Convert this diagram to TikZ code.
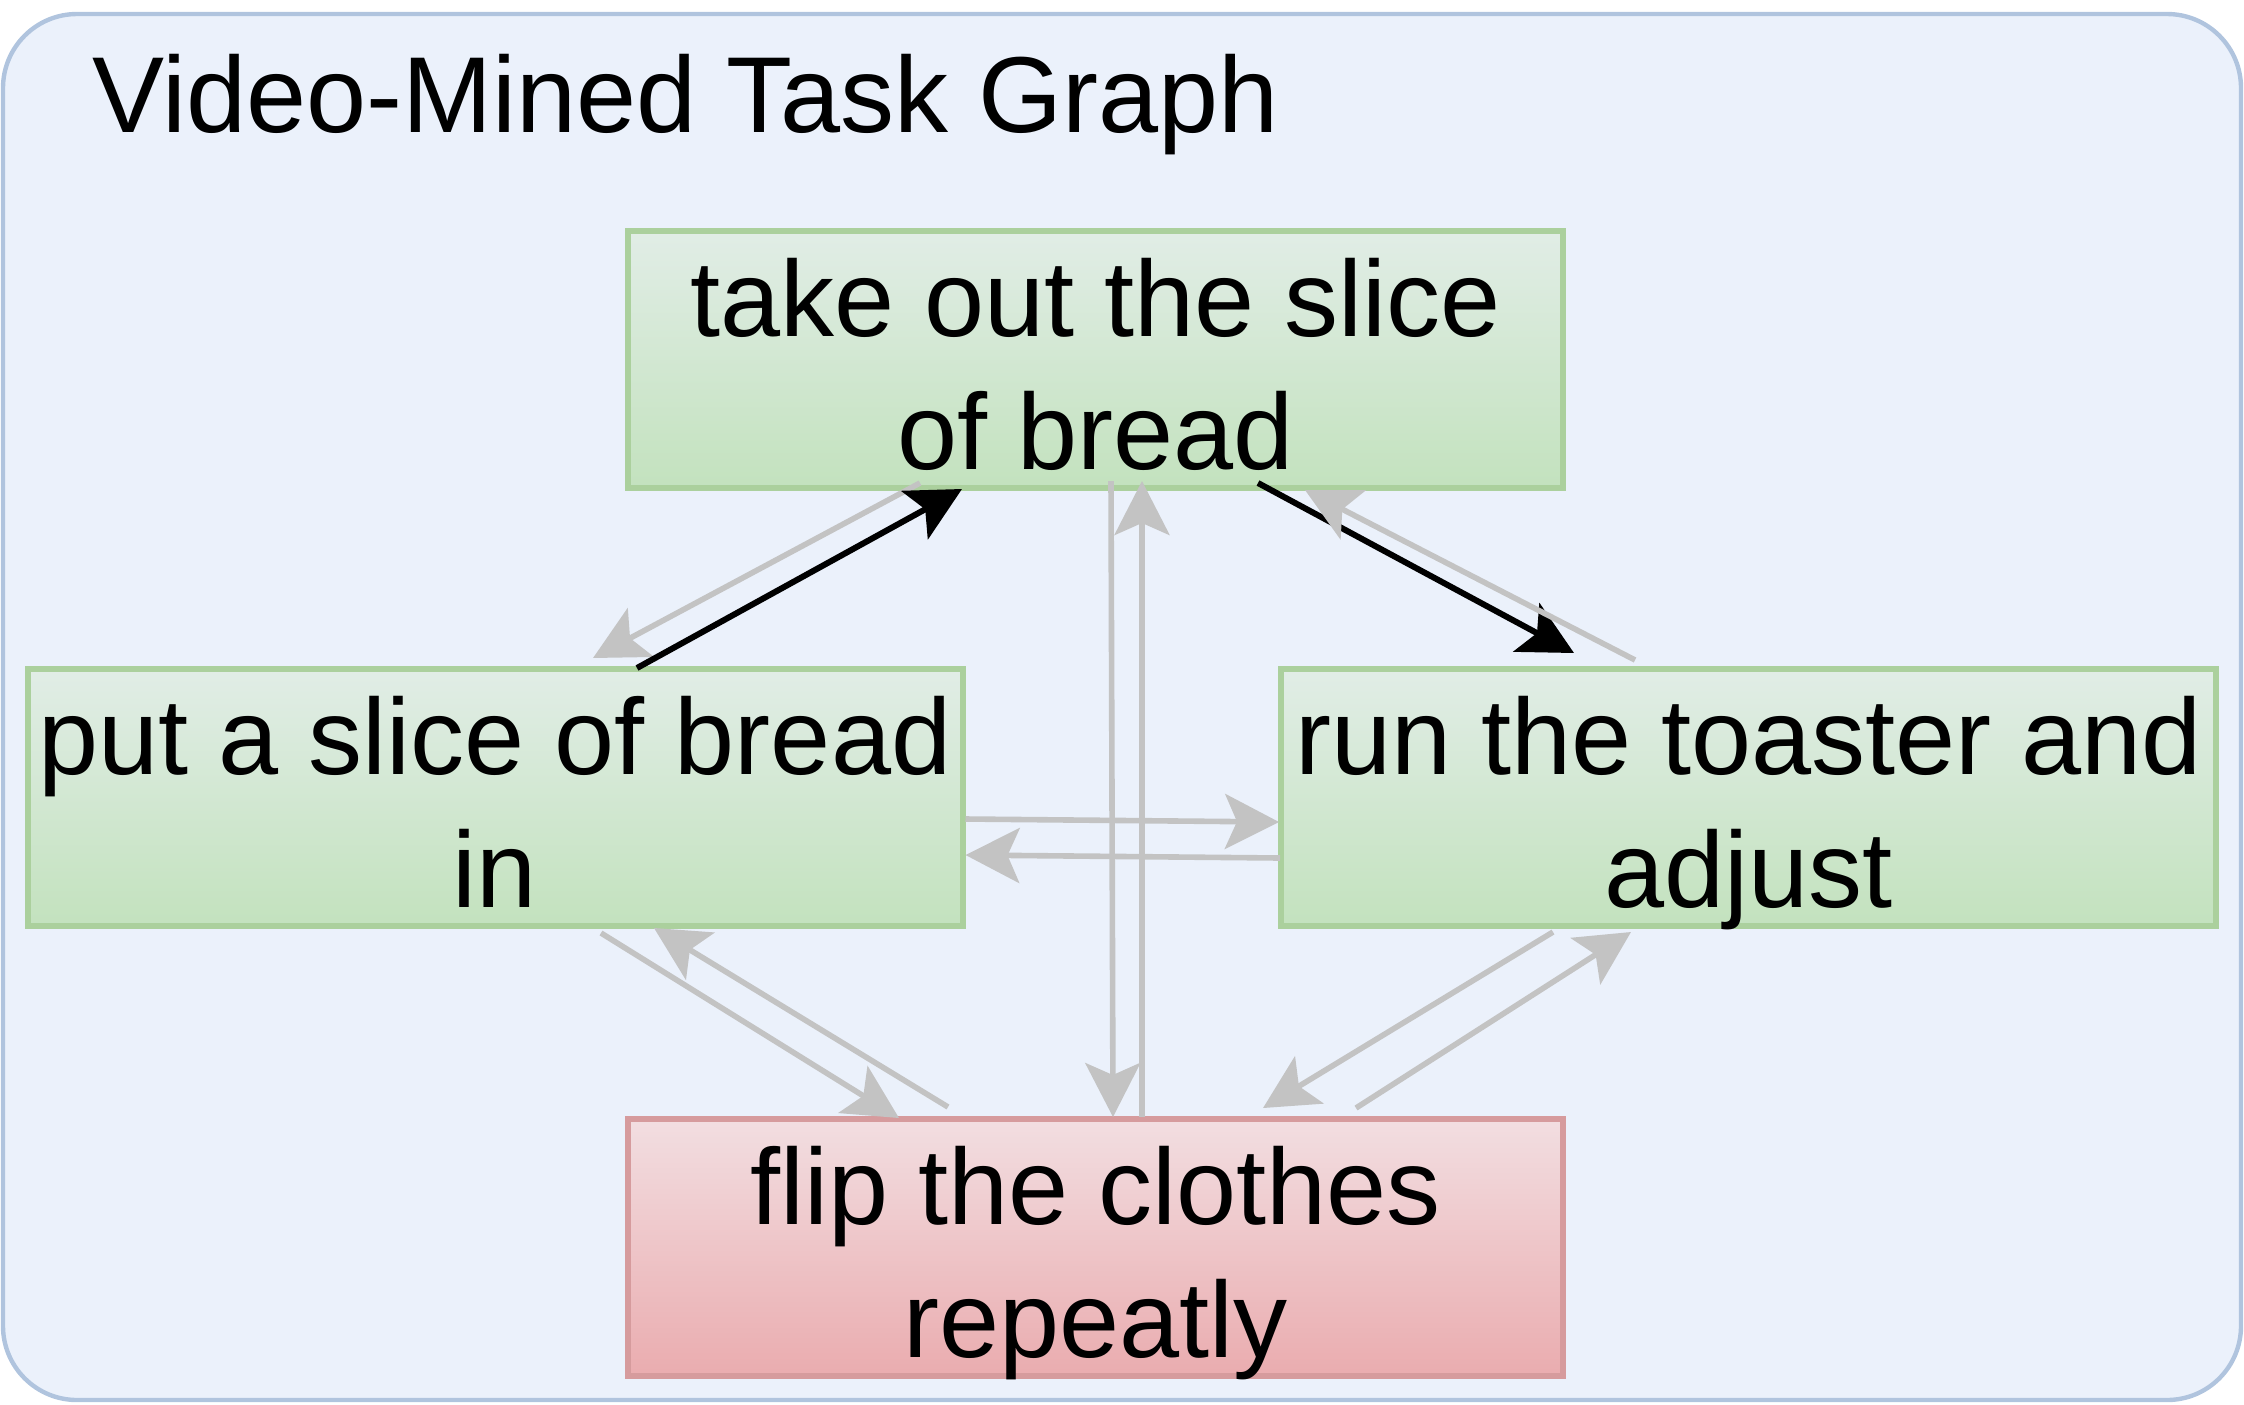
\documentclass[tikz,border=0pt]{standalone}
\usepackage{fontspec}
\setmainfont{Liberation Sans}
\usetikzlibrary{arrows.meta,calc}
\definecolor{bgfill}{HTML}{EBF1FB}
\definecolor{bgdraw}{HTML}{B0C4DE}
\definecolor{gtop}{HTML}{E1EDE6}
\definecolor{gbot}{HTML}{C3E2BE}
\definecolor{gdraw}{HTML}{ABD09D}
\definecolor{rtop}{HTML}{F2DEE1}
\definecolor{rbot}{HTML}{EAACAF}
\definecolor{rdraw}{HTML}{D69B9D}
\definecolor{agray}{HTML}{C3C3C3}
\newcommand\boxtext[2]{\parbox[c][128.5pt][t]{467.5pt}{\centering\fontsize{54pt}{66.5pt}\selectfont\rule{0pt}{52.5pt}#1\\#2}}
\begin{document}
\begin{tikzpicture}[x=0.5pt,y=-0.5pt,
  taskbox/.style={draw=gdraw, line width=3pt, inner sep=0pt, outer sep=0pt,
    top color=gtop, bottom color=gbot, minimum width=467.5pt, minimum height=128.5pt},
  redbox/.style={taskbox, draw=rdraw, top color=rtop, bottom color=rbot},
  tipstyle/.style={-{Stealth[length=27pt,width=27.5pt,inset=6pt]}},
  grayarrow/.style={draw=agray, line width=2.8pt, tipstyle},
  blackarrow/.style={draw=black, line width=3pt, tipstyle}]
\useasboundingbox (0,0) rectangle (2244,1404);
\draw[fill=bgfill, draw=bgdraw, line width=2.2pt, rounded corners=37pt] (3,14) rectangle (2241,1400);
\node[anchor=base west, inner sep=0pt, font=\fontsize{54pt}{64pt}\selectfont] (title) at (92,132) {Video-Mined Task Graph};

\node[taskbox] (top) at (1095.5,359.5) {\boxtext{take out the slice}{of bread}};
\node[taskbox] (left) at (495,797.5) {\boxtext{put a slice of bread}{in}};
\node[taskbox] (right) at (1748.5,797.5) {\boxtext{run the toaster and}{adjust}};
\node[redbox] (bottom) at (1095.5,1247.5) {\boxtext{flip the clothes}{repeatly}};

% top <-> left
\draw[grayarrow] ($(top.south)+(-175.5,-5)$) -- ($(left.north)+(98,-11)$);
\draw[blackarrow] ($(left.north)+(142,-1)$) -- ($(top.south)+(-133.5,1)$);
% top <-> right
\draw[blackarrow] ($(top.south)+(162.5,-5)$) -- ($(right.north)+(-174.5,-16)$);
\draw[grayarrow] ($(right.north)+(-113.5,-9)$) -- ($(top.south)+(209.5,2)$);
% left <-> right
\draw[grayarrow] ($(left.east)+(3,21.5)$) -- ($(right.west)+(-2,24.5)$);
\draw[grayarrow] ($(right.west)+(-1,60.5)$) -- ($(left.east)+(3,57.5)$);
% top <-> bottom
\draw[grayarrow] ($(top.south)+(15.5,-7)$) -- ($(bottom.north)+(17.5,-2)$);
\draw[grayarrow] ($(bottom.north)+(46.5,-2)$) -- ($(top.south)+(46.5,-7)$);
% left <-> bottom
\draw[grayarrow] ($(left.south)+(106,7)$) -- ($(bottom.north)+(-196.5,-1)$);
\draw[grayarrow] ($(bottom.north)+(-147.5,-12)$) -- ($(left.south)+(159,2)$);
% right <-> bottom
\draw[grayarrow] ($(right.south)+(-195.5,6)$) -- ($(bottom.north)+(167.5,-11)$);
\draw[grayarrow] ($(bottom.north)+(260.5,-11)$) -- ($(right.south)+(-117.5,6)$);
\end{tikzpicture}
\end{document}
